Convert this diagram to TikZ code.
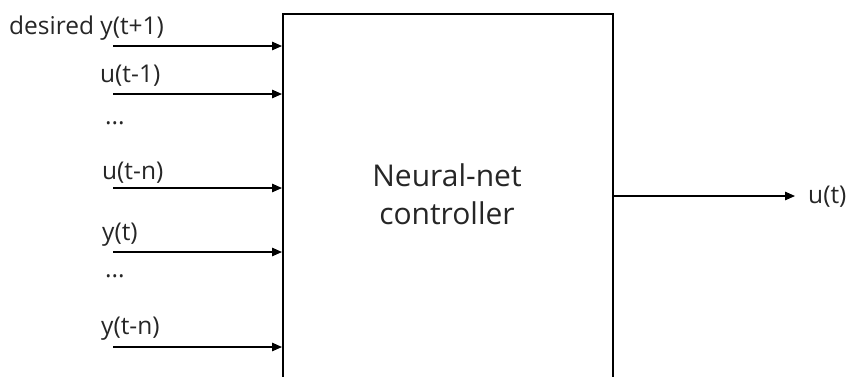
\documentclass[tikz,border=0pt]{standalone}
\usepackage{fontspec}
\setmainfont{Open Sans}
\usetikzlibrary{arrows.meta}
\begin{document}
\begin{tikzpicture}[x=1pt,y=-1pt,
  lbl/.style={font=\fontsize{24.5}{29}\selectfont, inner sep=0pt, anchor=base west, text=black!85},
  arr/.style={line width=1.3pt, -{Triangle[length=10pt,width=8.5pt]}},
  ctrlbox/.style={draw, line width=2.4pt, minimum width=330pt, minimum height=367pt, anchor=north west, inner sep=0pt}]
\useasboundingbox (0,0) rectangle (854,376);
\clip (0,0) rectangle (854,376);
\node[ctrlbox] (ctrl) at (282,13) {};
\node[font=\fontsize{30}{38}\selectfont, align=center, text=black!85, inner sep=0pt, anchor=center] (title) at (447,194) {Neural-net\\controller};
% input free ends
\coordinate (i1) at (113,46);
\coordinate (i2) at (113,94);
\coordinate (i3) at (113,188);
\coordinate (i4) at (113,252);
\coordinate (i5) at (113,347);
\foreach \c in {i1,i2,i3,i4,i5} {\draw[arr] (\c) -- (\c -| ctrl.west);}
% labels
\node[lbl] (l1) at (9,34) {desired y(t+1)};
\node[lbl] (l2) at (100,82) {u(t-1)};
\node[lbl] (d1) at (105,124) {...};
\node[lbl] (l3) at (102,179) {u(t-n)};
\node[lbl] (l4) at (102,240) {y(t)};
\node[lbl] (d2) at (105,277) {...};
\node[lbl] (l5) at (101,334) {y(t-n)};
% output
\coordinate (o) at (795,196);
\draw[arr] (ctrl.east |- o) -- (o);
\node[lbl] (lo) at (808,203) {u(t)};
\end{tikzpicture}
\end{document}
